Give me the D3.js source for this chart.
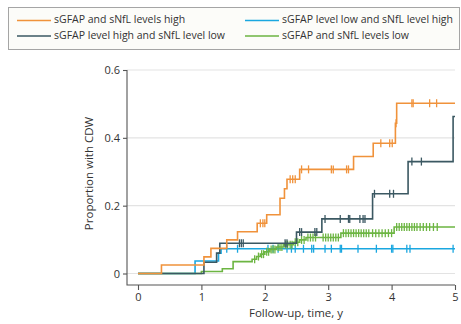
<!DOCTYPE html>
<html>
<head>
<meta charset="utf-8">
<script src="https://cdn.jsdelivr.net/npm/d3@7"></script>
<style>
  body { margin: 0; background: #fff; }
  svg text { font-family: "Open Sans", "Noto Sans", sans-serif; }
</style>
</head>
<body>
<div id="container"></div>
<script>
// step times (y) and cumulative proportions
const seriesNames = [
    "sGFAP and sNfL levels high",
    "sGFAP level low and sNfL level high",
    "sGFAP level high and sNfL level low",
    "sGFAP and sNfL levels low"
];
const seriesColors = ["#f0923b", "#1aa7e0", "#3b5862", "#6cb542"];

const highHighTimes = [0.37, 1.04, 1.15, 1.40, 1.57, 1.88, 2.03, 2.24, 2.31, 2.35, 2.55, 3.40, 3.71, 4.06, 4.08];
const highHighProps = [0.025, 0.049, 0.074, 0.099, 0.123, 0.148, 0.173, 0.222, 0.250, 0.278, 0.307, 0.345, 0.384, 0.443, 0.502];
const highHighCensor = [1.93, 1.97, 2.00, 2.40, 2.44, 2.48, 2.58, 2.69, 3.05, 3.08, 3.29, 3.32, 3.83, 3.97, 4.01, 4.07, 4.32, 4.34, 4.60, 4.71];

const lowHighTimes = [0.90, 1.27, 1.31];
const lowHighProps = [0.037, 0.060, 0.073];
const lowHighCensor = [1.40, 1.57, 2.05, 2.13, 2.21, 2.35, 2.42, 2.48, 2.61, 2.74, 2.77, 2.95, 3.05, 3.19, 3.21, 3.47, 3.76, 4.00, 4.02, 4.24, 4.29, 4.97];

const highLowTimes = [1.04, 1.24, 1.29, 2.50, 2.90, 3.70, 4.26, 4.97];
const highLowProps = [0.033, 0.060, 0.089, 0.122, 0.161, 0.235, 0.330, 0.463];
const highLowCensor = [1.60, 1.63, 1.66, 2.32, 2.35, 2.55, 2.58, 2.79, 2.82, 2.95, 3.19, 3.32, 3.34, 3.50, 3.55, 3.58, 3.73, 3.97, 4.03, 4.32, 4.47];

const lowLowTimes = [1.00, 1.33, 1.50, 1.80, 1.87, 1.93, 2.00, 2.08, 2.18, 2.30, 2.45, 2.55, 2.65, 3.20, 4.04];
const lowLowProps = [0.006, 0.014, 0.035, 0.042, 0.050, 0.057, 0.064, 0.071, 0.078, 0.085, 0.092, 0.099, 0.106, 0.119, 0.137];
const lowLowCensor = [1.84, 1.90, 1.95, 1.98, 2.03, 2.06, 2.10, 2.13, 2.16, 2.21, 2.24, 2.27, 2.33, 2.36, 2.40, 2.43, 2.48, 2.52,
    2.58, 2.62, 2.68, 2.72, 2.76, 2.80, 2.92, 2.96, 3.00, 3.04, 3.08, 3.12, 3.16, 3.24, 3.28, 3.32, 3.36, 3.40, 3.44, 3.48,
    3.52, 3.56, 3.60, 3.64, 3.70, 3.75, 3.80, 3.85, 3.90, 3.95, 4.00, 4.08, 4.12, 4.16, 4.20, 4.24, 4.28, 4.32, 4.36, 4.40,
    4.45, 4.50, 4.55, 4.60, 4.66, 4.72];

const xTicks = [0, 1, 2, 3, 4, 5];
const yTicks = [0, 0.2, 0.4, 0.6];

const series = [
    {name: seriesNames[0], color: seriesColors[0], times: highHighTimes, props: highHighProps, censor: highHighCensor},
    {name: seriesNames[1], color: seriesColors[1], times: lowHighTimes, props: lowHighProps, censor: lowHighCensor},
    {name: seriesNames[2], color: seriesColors[2], times: highLowTimes, props: highLowProps, censor: highLowCensor},
    {name: seriesNames[3], color: seriesColors[3], times: lowLowTimes, props: lowLowProps, censor: lowLowCensor},
]

const config = {
    width: 461,
    height: 324,
    axisLeft: 127,
    axisBottom: 285,
}

const svg = d3.select('#container')
    .append('svg')
    .attr('width', config.width)
    .attr('height', config.height)

const xScale = d3.scaleLinear().domain([0, 5]).range([138, 455])
const yScale = d3.scaleLinear().domain([0, 0.6]).range([273.5, 70])

// grid
svg.append('g')
    .selectAll('line')
    .data(yTicks)
    .join('line')
    .attr('x1', config.axisLeft)
    .attr('x2', xScale(5))
    .attr('y1', d => yScale(d))
    .attr('y2', d => yScale(d))
    .attr('stroke', '#e3e3e3')
    .attr('stroke-width', 1.2)

// axes
const yAxis = svg.append('g')
    .attr('transform', `translate(${config.axisLeft},0)`)
    .call(d3.axisLeft(yScale)
        .tickValues(yTicks)
        .tickSize(4)
        .tickPadding(3)
        .tickFormat(d => d === 0 ? '0' : d3.format('.1f')(d)))
yAxis.select('.domain').remove()

const xAxis = svg.append('g')
    .attr('transform', `translate(0,${config.axisBottom})`)
    .call(d3.axisBottom(xScale)
        .tickValues(xTicks)
        .tickSize(5)
        .tickPadding(3)
        .tickFormat(d3.format('d')))
xAxis.select('.domain').remove()

svg.selectAll('.tick line').attr('stroke', '#555').attr('stroke-width', 1.1)
svg.selectAll('.tick text').attr('fill', '#333').style('font-size', '11px')

svg.append('path')
    .attr('d', `M${config.axisLeft},${yScale(0.6)}V${config.axisBottom}H${xScale(5)}`)
    .attr('fill', 'none')
    .attr('stroke', '#555')
    .attr('stroke-width', 1.1)

svg.append('text')
    .attr('text-anchor', 'middle')
    .attr('transform', `translate(93,${(yScale(0.6) + config.axisBottom) / 2 - 4}) rotate(-90)`)
    .text('Proportion with CDW')
    .style('font-size', '11.5px')
    .style('fill', '#333')

svg.append('text')
    .attr('text-anchor', 'middle')
    .attr('x', (config.axisLeft + xScale(5)) / 2 + 5)
    .attr('y', 317)
    .text('Follow-up, time, y')
    .style('font-size', '11.5px')
    .style('fill', '#333')

// curves
const line = d3.line()
    .x(d => xScale(d[0]))
    .y(d => yScale(d[1]))
    .curve(d3.curveStepAfter)

const propAt = (s, t) => {
    const i = d3.bisectRight(s.times, t)
    return i === 0 ? 0 : s.props[i - 1]
}

const drawOrder = [1, 3, 2, 0]
drawOrder.forEach(k => {
    const s = series[k]
    const pts = [[0, 0]].concat(s.times.map((t, i) => [t, s.props[i]]))
    pts.push([5, s.props[s.props.length - 1]])

    const g = svg.append('g')
    g.append('path')
        .attr('d', line(pts))
        .attr('fill', 'none')
        .attr('stroke', s.color)
        .attr('stroke-width', 1.6)

    g.selectAll('line')
        .data(s.censor)
        .join('line')
        .attr('x1', d => xScale(d))
        .attr('x2', d => xScale(d))
        .attr('y1', d => yScale(propAt(s, d)) - 4)
        .attr('y2', d => yScale(propAt(s, d)) + 4)
        .attr('stroke', s.color)
        .attr('stroke-width', 1.3)
})

// legend
svg.append('rect')
    .attr('x', 8.5)
    .attr('y', 7.5)
    .attr('width', 451)
    .attr('height', 42)
    .attr('fill', '#fcfcf9')
    .attr('stroke', '#a5a5a5')
    .attr('stroke-width', 1)

const legendPos = [[17, 20.5], [245, 20.5], [17, 36], [245, 36]]
const legend = svg.append('g').selectAll('g')
    .data(series)
    .join('g')
    .attr('transform', (d, i) => `translate(${legendPos[i][0]},${legendPos[i][1]})`)

legend.append('line')
    .attr('x1', 0)
    .attr('x2', 34)
    .attr('stroke', d => d.color)
    .attr('stroke-width', 1.6)

legend.append('text')
    .attr('x', 37)
    .attr('dominant-baseline', 'middle')
    .text(d => d.name)
    .style('font-size', '10.5px')
    .style('fill', '#333')
</script>
</body>
</html>
